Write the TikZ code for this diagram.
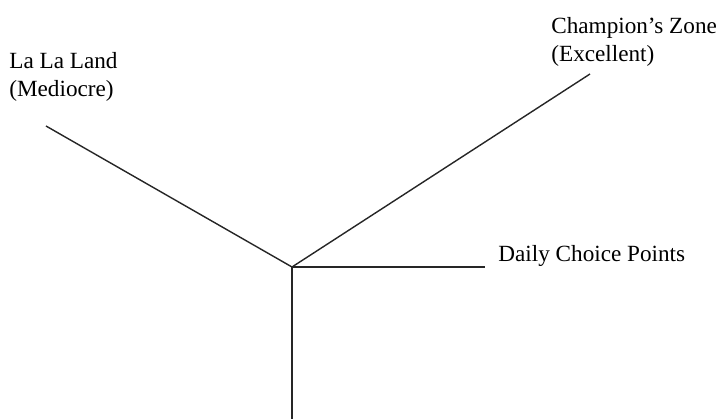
\documentclass[tikz,border=0pt]{standalone}
\usepackage{fontspec}
\setmainfont{Liberation Serif}
\usepackage{tikz}
\usetikzlibrary{positioning}

\begin{document}
\begin{tikzpicture}[x=0.02cm, y=0.02cm,
    branch/.style={line width=0.8pt, black!85},
    tag/.style={inner sep=0pt, align=left, font=\fontsize{13.2}{15.9}\selectfont}]
\useasboundingbox (0,0) rectangle (720,419);

% fork point and branch ends
\coordinate (fork) at (292,152);
\coordinate (past) at (292,0);
\coordinate (mediocre) at (46,293);
\coordinate (excellent) at (590,345);
\coordinate (choice) at (485,152);

% branches
\draw[branch] (fork) -- (past);
\draw[branch] (fork) -- (mediocre);
\draw[branch] (fork) -- (excellent);
\draw[branch] (fork) -- (choice);

% labels
\node[tag, anchor=north west] (lalaland) at (9,367) {La La Land\\(Mediocre)};
\node[tag, anchor=north west] (champion) at (551,402) {Champion’s Zone\\(Excellent)};
\node[tag, anchor=base west] (daily) at (498,157) {Daily Choice Points};
\end{tikzpicture}
\end{document}
